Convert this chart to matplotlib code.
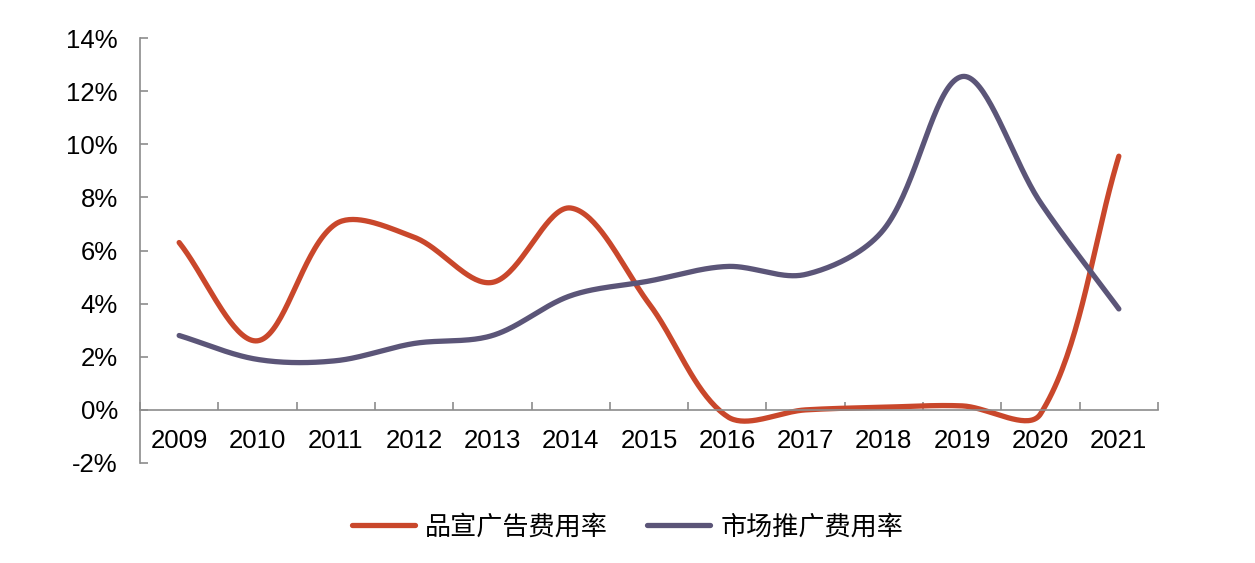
import numpy as np
import matplotlib
matplotlib.use("Agg")
import matplotlib.pyplot as plt
from matplotlib.ticker import FixedLocator, FuncFormatter

years = ["2009", "2010", "2011", "2012", "2013", "2014", "2015",
         "2016", "2017", "2018", "2019", "2020", "2021"]
brand_ad = [6.3, 2.6, 7.0, 6.5, 4.8, 7.6, 4.0, -0.25, 0.0, 0.1, 0.15, -0.15, 9.55]
marketing = [2.8, 1.9, 1.85, 2.5, 2.8, 4.3, 4.85, 5.4, 5.1, 6.8, 12.55, 7.8, 3.8]

red = "#C9472B"
purple = "#5B5578"

# screen scale (px per year, px per %) for chord weighting
SX, SY = 78.3, 26.5


def smooth(y, n=40):
    # bezier smoothing with chord-weighted tangents (close to Excel smoothed line)
    y = np.asarray(y, dtype=float)
    P = np.column_stack([np.arange(len(y)) * SX, y * SY])
    m = len(P)
    cin = P.copy()
    cout = P.copy()
    for i in range(m):
        a = P[max(i - 1, 0)]
        b = P[min(i + 1, m - 1)]
        T = b - a
        d0 = np.linalg.norm(P[i] - a)
        d1 = np.linalg.norm(b - P[i])
        if d0 + d1 == 0:
            continue
        cin[i] = P[i] - T * d0 / (d0 + d1) / 3
        cout[i] = P[i] + T * d1 / (d0 + d1) / 3
    pts = []
    t = np.linspace(0, 1, n)[:, None]
    for i in range(m - 1):
        p1, c1, c2, p2 = P[i], cout[i], cin[i + 1], P[i + 1]
        pts.append((1 - t) ** 3 * p1 + 3 * (1 - t) ** 2 * t * c1 + 3 * (1 - t) * t ** 2 * c2 + t ** 3 * p2)
    pts = np.vstack(pts)
    return pts[:, 0] / SX, pts[:, 1] / SY


plt.rcParams["font.family"] = ["Liberation Sans", "Noto Sans CJK SC", "DejaVu Sans"]

fig = plt.figure(figsize=(12.55, 5.63), dpi=100)
ax = fig.add_axes([140 / 1255, 1 - 463 / 563, 1018 / 1255, 425 / 563])

x1, y1 = smooth(brand_ad)
x2, y2 = smooth(marketing)
ax.plot(x1, y1, color=red, lw=3.8, solid_capstyle="round", label="品宣广告费用率")
ax.plot(x2, y2, color=purple, lw=3.8, solid_capstyle="round", label="市场推广费用率")

ax.set_xlim(-0.5, len(years) - 0.5)
ax.set_ylim(-2, 14)
ax.set_yticks(np.arange(-2, 15, 2))
ax.yaxis.set_major_formatter(FuncFormatter(lambda v, p: "%d%%" % v))

ax.spines["top"].set_visible(False)
ax.spines["right"].set_visible(False)
ax.spines["bottom"].set_position(("data", 0))
for s in ["left", "bottom"]:
    ax.spines[s].set_color("#8C8C8C")
    ax.spines[s].set_linewidth(1.2)

ax.xaxis.set_major_locator(FixedLocator(np.arange(-0.5, len(years), 1)))
ax.xaxis.set_major_formatter(FuncFormatter(lambda v, p: ""))
ax.set_xticks(np.arange(len(years)), years, minor=True)
ax.tick_params(axis="x", which="major", direction="in", length=6, color="#8C8C8C", width=1.2)
ax.tick_params(axis="x", which="minor", length=0, pad=14, labelsize=18.5)
ax.tick_params(axis="y", direction="in", length=6, color="#8C8C8C", width=1.2, labelsize=18.5, pad=16)

fig.legend(loc="center", bbox_to_anchor=(0.5, 1 - 527 / 563), ncol=2, frameon=False,
           prop={"family": ["Noto Sans CJK SC"], "size": 18.8}, handlelength=2.4,
           columnspacing=1.5, handletextpad=0.4)

fig.savefig("out.png", dpi=100)
